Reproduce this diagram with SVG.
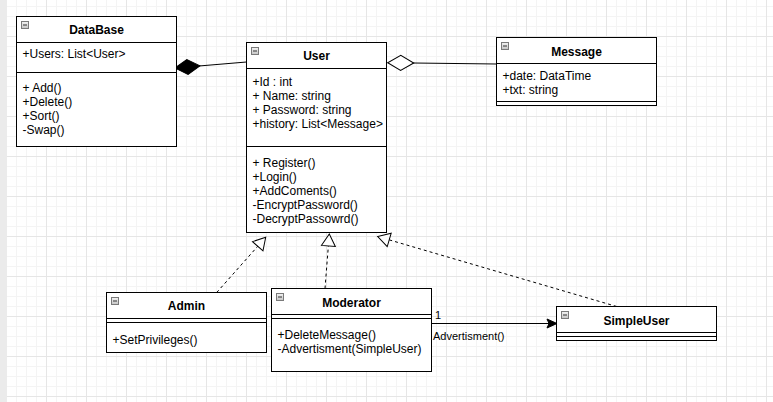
<svg xmlns="http://www.w3.org/2000/svg" width="773" height="402" viewBox="0 0 773 402">
<style>
.box{fill:#fff;stroke:#000;stroke-width:1}
.sep{stroke:#000;stroke-width:1;fill:none}
.t{font-family:"Liberation Sans",Arial,sans-serif;font-size:12px;fill:#000}
.h{font-weight:bold;text-anchor:middle}
.lbl{font-family:"Liberation Sans",Arial,sans-serif;font-size:11px;fill:#000}
.dash{stroke:#000;stroke-width:1;fill:none;stroke-dasharray:3 3}
.solid{stroke:#000;stroke-width:1;fill:none}
</style>
<defs>
<pattern id="grid" patternUnits="userSpaceOnUse" x="6" y="-4" width="40" height="40">
<rect x="10" y="0" width="1" height="40" fill="#f4f4f4"/>
<rect x="20" y="0" width="1" height="40" fill="#f4f4f4"/>
<rect x="30" y="0" width="1" height="40" fill="#f4f4f4"/>
<rect x="0" y="10" width="40" height="1" fill="#f4f4f4"/>
<rect x="0" y="20" width="40" height="1" fill="#f4f4f4"/>
<rect x="0" y="30" width="40" height="1" fill="#f4f4f4"/>
<rect x="0" y="0" width="1" height="40" fill="#e6e6e6"/>
<rect x="0" y="0" width="40" height="1" fill="#e6e6e6"/>
</pattern>
<linearGradient id="tg" x1="0" y1="0" x2="0" y2="1">
<stop offset="0" stop-color="#f4f4f4"/>
<stop offset="1" stop-color="#c4c4c4"/>
</linearGradient>
<symbol id="tog" overflow="visible">
<rect x="0" y="0" width="7" height="7" fill="url(#tg)" stroke="#7a7a7a" stroke-width="1"/>
<line x1="1.5" y1="3.5" x2="5.5" y2="3.5" stroke="#333" stroke-width="1"/>
</symbol>
<marker id="real" markerUnits="userSpaceOnUse" viewBox="-1 -1 14 16" markerWidth="14" markerHeight="16" refX="12" refY="7" orient="auto" overflow="visible">
<path d="M0,0 L12,7 L0,14 Z" fill="#fff" stroke="#000" stroke-width="1" stroke-dasharray="none"/>
</marker>
<marker id="comp" markerUnits="userSpaceOnUse" viewBox="-1 -1 27 17" markerWidth="27" markerHeight="17" refX="0" refY="7.5" orient="auto" overflow="visible">
<path d="M0,7.5 L12.5,0 L25,7.5 L12.5,15 Z" fill="#000" stroke="#000" stroke-width="1"/>
</marker>
<marker id="agg" markerUnits="userSpaceOnUse" viewBox="-1 -1 28 17" markerWidth="28" markerHeight="17" refX="26" refY="7.5" orient="auto" overflow="visible">
<path d="M0,7.5 L13,0 L26,7.5 L13,15 Z" fill="#fff" stroke="#000" stroke-width="1"/>
</marker>
<marker id="arr" markerUnits="userSpaceOnUse" viewBox="-1 -1 12 11" markerWidth="12" markerHeight="11" refX="10" refY="4.5" orient="auto" overflow="visible">
<path d="M0,0 L10,4.5 L0,9 L2,4.5 Z" fill="#000" stroke="#000" stroke-width="1"/>
</marker>
</defs>
<rect x="0" y="0" width="773" height="402" fill="#fff"/>
<rect x="0" y="0" width="773" height="402" fill="url(#grid)"/>
<rect x="0" y="0" width="7" height="402" fill="#ebebeb"/>

<g id="connectors">
<line class="solid" x1="175" y1="68" x2="246.5" y2="62" marker-start="url(#comp)"/>
<line class="solid" x1="496.5" y1="64" x2="387.7" y2="62.7" marker-end="url(#agg)"/>
<line class="dash" x1="216.7" y1="292.5" x2="265.7" y2="237.3" marker-end="url(#real)"/>
<line class="dash" x1="325" y1="288.5" x2="329.3" y2="234" marker-end="url(#real)"/>
<line class="dash" x1="616.7" y1="306.5" x2="377.7" y2="236.5" marker-end="url(#real)"/>
<line class="solid" x1="431.5" y1="323.5" x2="557" y2="323.5" marker-end="url(#arr)"/>
<text class="lbl" x="435" y="319">1</text>
<text class="lbl" x="433" y="340">Advertisment()</text>
</g>

<g id="DataBase">
<rect class="box" x="16.5" y="16.5" width="160" height="130"/>
<line class="sep" x1="16.5" y1="42.5" x2="176.5" y2="42.5"/>
<line class="sep" x1="16.5" y1="72.5" x2="176.5" y2="72.5"/>
<use href="#tog" x="21.5" y="21.5"/>
<text class="t h" x="96.5" y="34">DataBase</text>
<text class="t" x="22.5" y="58">+Users: List&lt;User&gt;</text>
<text class="t" x="22.5" y="92">+ Add()</text>
<text class="t" x="22.5" y="106">+Delete()</text>
<text class="t" x="22.5" y="120">+Sort()</text>
<text class="t" x="22.5" y="134">-Swap()</text>
</g>

<g id="User">
<rect class="box" x="246.5" y="42.5" width="140" height="190"/>
<line class="sep" x1="246.5" y1="68.5" x2="386.5" y2="68.5"/>
<line class="sep" x1="246.5" y1="146.5" x2="386.5" y2="146.5"/>
<use href="#tog" x="251.5" y="47.5"/>
<text class="t h" x="316.5" y="60">User</text>
<text class="t" x="252.5" y="85.5">+Id : int</text>
<text class="t" x="252.5" y="99.5">+ Name: string</text>
<text class="t" x="252.5" y="113.5">+ Password: string</text>
<text class="t" x="252.5" y="127.5">+history: List&lt;Message&gt;</text>
<text class="t" x="252.5" y="167">+ Register()</text>
<text class="t" x="252.5" y="181">+Login()</text>
<text class="t" x="252.5" y="195">+AddComents()</text>
<text class="t" x="252.5" y="209">-EncryptPassword()</text>
<text class="t" x="252.5" y="223">-DecryptPassowrd()</text>
</g>

<g id="Message">
<rect class="box" x="496.5" y="37.5" width="160" height="68"/>
<line class="sep" x1="496.5" y1="63.5" x2="656.5" y2="63.5"/>
<line class="sep" x1="496.5" y1="101.5" x2="656.5" y2="101.5"/>
<use href="#tog" x="501.5" y="42.5"/>
<text class="t h" x="576.5" y="56">Message</text>
<text class="t" x="502.5" y="80">+date: DataTime</text>
<text class="t" x="502.5" y="94">+txt: string</text>
</g>

<g id="Admin">
<rect class="box" x="106.5" y="292.5" width="160" height="60"/>
<line class="sep" x1="106.5" y1="318.5" x2="266.5" y2="318.5"/>
<line class="sep" x1="106.5" y1="322.5" x2="266.5" y2="322.5"/>
<use href="#tog" x="111.5" y="297.5"/>
<text class="t h" x="186.5" y="310">Admin</text>
<text class="t" x="112.5" y="344">+SetPrivileges()</text>
</g>

<g id="Moderator">
<rect class="box" x="271.5" y="288.5" width="160" height="83"/>
<line class="sep" x1="271.5" y1="314.5" x2="431.5" y2="314.5"/>
<line class="sep" x1="271.5" y1="318.5" x2="431.5" y2="318.5"/>
<use href="#tog" x="276.5" y="293.5"/>
<text class="t h" x="351.5" y="306.5">Moderator</text>
<text class="t" x="277.5" y="339">+DeleteMessage()</text>
<text class="t" x="277.5" y="353">-Advertisment(SimpleUser)</text>
</g>

<g id="SimpleUser">
<rect class="box" x="556.5" y="306.5" width="160" height="34"/>
<line class="sep" x1="556.5" y1="332.5" x2="716.5" y2="332.5"/>
<line class="sep" x1="556.5" y1="336.5" x2="716.5" y2="336.5"/>
<use href="#tog" x="561.5" y="311.5"/>
<text class="t h" x="636.5" y="324.5">SimpleUser</text>
</g>
</svg>
